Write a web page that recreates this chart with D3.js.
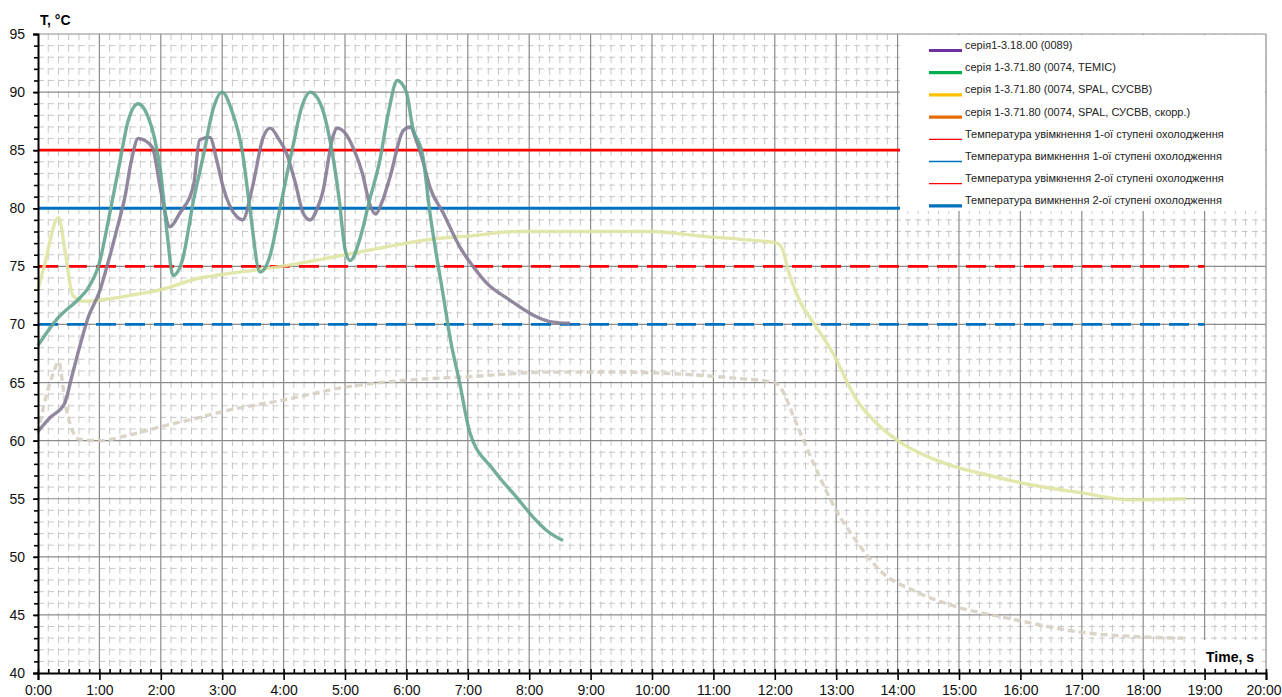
<!DOCTYPE html>
<html>
<head>
<meta charset="utf-8">
<script src="https://cdn.jsdelivr.net/npm/d3@7"></script>
<style>
  body { margin: 0; background: #fff; }
  svg { display: block; }
</style>
</head>
<body>
<div id="chart"></div>
<script>
// time in seconds, temperature in °C
const series0089 = [[0,60.8],[12,62],[26,63.2],[33,65.5],[42,68.5],[49,70.6],[60,72.8],[69,75.5],[78,78.5],[85,81],[91,84],[98,86],[105,85.8],[112,85.2],[120,81.5],[129,78.4],[138,79.5],[152,82],[158,85.9],[168,86.1],[175,84],[181,81.8],[194,79.3],[200,79],[210,82],[220,86.1],[227,86.9],[235,86],[243,84.7],[252,82],[259,79.6],[266,79],[273,80],[278,81.3],[288,86.1],[292,86.9],[300,86.5],[309,85],[317,83],[324,80.4],[330,79.5],[336,80.5],[344,82.7],[357,86.7],[364,87],[369,86],[376,84.1],[383,81.8],[396,79.6],[412,76.7],[425,75],[438,73.6],[461,72.1],[484,70.8],[503,70.2],[520,70.1]];

const seriesTemic = [[0,68.2],[20,70.6],[41,72.3],[48,73],[60,75.3],[70,79.5],[80,84],[88,87.5],[98,89],[107,88],[114,86],[120,83],[126,78],[132,74.2],[141,75.5],[152,80.7],[162,84.7],[171,88.5],[180,90],[189,88.5],[200,84.7],[207,80],[217,74.5],[227,76],[236,79.8],[249,85.3],[258,88.8],[266,90],[276,89],[285,86],[294,81],[300,76.5],[305,75.5],[315,77.5],[324,80.7],[334,84.1],[343,88.5],[351,91],[360,90],[366,87],[376,84.5],[383,79.6],[388,76.7],[396,72.5],[403,68.7],[412,65],[422,60.7],[445,57.5],[468,55.1],[484,53.4],[498,52.2],[513,51.4]];

const seriesSpal = [[0,73],[6,75],[20,79.2],[27,76],[34,72.5],[45,72],[60,72.1],[90,72.5],[120,73],[158,74],[180,74.3],[223,74.8],[270,75.5],[300,76],[330,76.5],[360,77],[390,77.4],[420,77.6],[468,78],[540,78],[600,78],[648,77.6],[690,77.3],[722,77],[728,76.4],[732,75],[744,72.1],[759,70],[777,67.5],[800,63.5],[816,61.8],[842,59.9],[870,58.6],[891,57.9],[930,57],[970,56.2],[1020,55.5],[1068,54.9],[1122,55]];

const seriesSpalCorr = [[0,60.6],[7,63.5],[15,65.8],[20,66.8],[27,63],[33,61],[41,60.1],[60,60],[90,60.5],[120,61.2],[158,62],[180,62.5],[240,63.5],[300,64.6],[360,65.2],[420,65.5],[500,65.9],[556,65.9],[612,65.8],[678,65.4],[720,65],[726,64.5],[741,61.5],[758,58],[780,54],[801,51.2],[822,48.9],[858,47],[894,45.8],[954,44.6],[1020,43.5],[1080,43.1],[1119,43]];

const thresholds = [85, 80, 75, 70];
const thresholdColors = ['#ff0000', '#0070c0', '#ff0000', '#0070c0'];
const thresholdDashed = [false, false, true, true];

const legendLabels = [
  'серія1-3.18.00 (0089)',
  'серія 1-3.71.80 (0074, TEMIC)',
  'серія 1-3.71.80 (0074, SPAL, СУСВВ)',
  'серія 1-3.71.80 (0074, SPAL, СУСВВ, скорр.)',
  'Температура увімкнення 1-ої ступені охолодження',
  'Температура вимкнення 1-ої ступені охолодження',
  'Температура увімкнення 2-ої ступені охолодження',
  'Температура вимкнення 2-ої ступені охолодження'
];
const legendColors = ['#7030a0', '#00b050', '#ffc000', '#e36c09', '#ff0000', '#0070c0', '#ff0000', '#0070c0'];
const legendThick = [true, true, true, true, false, false, false, true];

const width = 1282;
const height = 697;
const font = '"Liberation Sans", Arial, sans-serif';

const svg = d3.select('#chart')
  .append('svg')
  .attr('width', width)
  .attr('height', height);

const x = d3.scaleLinear().domain([0, 1200]).range([38, 1266]);
const y = d3.scaleLinear().domain([40, 95]).range([673, 34]);

// minor grid
svg.append('g')
  .selectAll('line')
  .data(d3.range(0, 1201, 10).filter(s => s % 60 !== 0))
  .join('line')
  .attr('x1', d => x(d)).attr('x2', d => x(d))
  .attr('y1', y(95)).attr('y2', y(40))
  .attr('stroke', '#c8c8c8')
  .attr('stroke-dasharray', '7,4.6')
  .attr('stroke-dashoffset', 1);

svg.append('g')
  .selectAll('line')
  .data(d3.range(41, 95, 1).filter(v => v % 5 !== 0))
  .join('line')
  .attr('x1', x(0)).attr('x2', x(1200))
  .attr('y1', d => y(d)).attr('y2', d => y(d))
  .attr('stroke', '#c8c8c8')
  .attr('stroke-dasharray', '6,4.2')
  .attr('stroke-dashoffset', 0);

// major grid
svg.append('g')
  .selectAll('line')
  .data(d3.range(60, 1201, 60))
  .join('line')
  .attr('x1', d => x(d)).attr('x2', d => x(d))
  .attr('y1', y(95)).attr('y2', y(40))
  .attr('stroke', '#8c8c8c')
  .attr('stroke-width', 1.2);

svg.append('g')
  .selectAll('line')
  .data(d3.range(45, 96, 5))
  .join('line')
  .attr('x1', x(0)).attr('x2', x(1200))
  .attr('y1', d => y(d)).attr('y2', d => y(d))
  .attr('stroke', '#8c8c8c')
  .attr('stroke-width', 1.2);

// threshold lines
svg.append('g')
  .selectAll('line')
  .data(thresholds)
  .join('line')
  .attr('x1', x(0)).attr('x2', x(1140))
  .attr('y1', d => y(d)).attr('y2', d => y(d))
  .attr('stroke', (d, i) => thresholdColors[i])
  .attr('stroke-width', 2.8)
  .attr('stroke-dasharray', (d, i) => thresholdDashed[i] ? '20,9' : null);

// series
const line = d3.line()
  .x(d => x(d[0]))
  .y(d => y(d[1]))
  .curve(d3.curveMonotoneX);

const seriesList = [
  { data: seriesSpalCorr, color: '#d6d0c2', dash: '7,4' },
  { data: seriesSpal, color: '#dfe4a2', dash: null },
  { data: series0089, color: '#857a94', dash: null },
  { data: seriesTemic, color: '#64a592', dash: null }
];

svg.append('g')
  .selectAll('path')
  .data(seriesList)
  .join('path')
  .attr('d', d => line(d.data))
  .attr('fill', 'none')
  .attr('stroke', d => d.color)
  .attr('stroke-width', 3.4)
  .attr('stroke-linejoin', 'round')
  .attr('stroke-dasharray', d => d.dash)
  .attr('opacity', 0.9);

// legend
const legend = svg.append('g');
legend.append('rect')
  .attr('x', 900).attr('y', 35)
  .attr('width', 365).attr('height', 176)
  .attr('fill', '#fff');

const item = legend.selectAll('g')
  .data(legendLabels)
  .join('g')
  .attr('transform', (d, i) => `translate(0, ${49 + i * 22.2})`);

item.append('line')
  .attr('x1', 929).attr('x2', 962)
  .attr('y1', 1.5).attr('y2', 1.5)
  .attr('stroke', (d, i) => legendColors[i])
  .attr('stroke-width', (d, i) => legendThick[i] ? 3.2 : 1.3);

item.append('text')
  .attr('x', 965)
  .attr('y', 0)
  .text(d => d)
  .style('font-family', font)
  .style('font-size', '11px')
  .style('fill', '#222');

// axes
const xAxis = svg.append('g')
  .attr('transform', `translate(0, ${y(40)})`)
  .call(d3.axisBottom(x)
    .tickValues(d3.range(0, 1201, 60))
    .tickSize(7)
    .tickFormat(d => `${d / 60}:00`));

svg.append('g')
  .attr('transform', `translate(0, ${y(40)})`)
  .call(d3.axisBottom(x)
    .tickValues(d3.range(0, 1201, 10))
    .tickSize(-4)
    .tickFormat(''))
  .call(g => g.select('.domain').remove());

const yAxis = svg.append('g')
  .attr('transform', `translate(${x(0)}, 0)`)
  .call(d3.axisLeft(y)
    .tickValues(d3.range(40, 96, 5))
    .tickSize(5)
    .tickPadding(8));

svg.append('g')
  .attr('transform', `translate(${x(0)}, 0)`)
  .call(d3.axisLeft(y)
    .tickValues(d3.range(40, 96, 1))
    .tickSize(4)
    .tickFormat(''))
  .call(g => g.select('.domain').remove());

svg.selectAll('.domain').attr('stroke', '#000').attr('stroke-width', 2);
svg.selectAll('.tick line').attr('stroke', '#000').attr('stroke-width', 1.6);
svg.selectAll('.tick text')
  .style('font-family', font)
  .style('font-size', '14px')
  .style('fill', '#111');
xAxis.selectAll('.tick text').attr('dy', '0.85em');
// last label sits against the right edge
xAxis.selectAll('.tick text')
  .filter(d => d === 1200)
  .attr('text-anchor', 'end')
  .attr('x', 15);

// axis titles
svg.append('text')
  .attr('x', 40).attr('y', 25)
  .text('T, °C')
  .style('font-family', font)
  .style('font-weight', 'bold')
  .style('font-size', '14px');

svg.append('rect')
  .attr('x', 1196).attr('y', 640)
  .attr('width', 62).attr('height', 28)
  .attr('fill', '#fff');

svg.append('text')
  .attr('x', 1254).attr('y', 662)
  .attr('text-anchor', 'end')
  .text('Time, s')
  .style('font-family', font)
  .style('font-weight', 'bold')
  .style('font-size', '14px');
</script>
</body>
</html>
